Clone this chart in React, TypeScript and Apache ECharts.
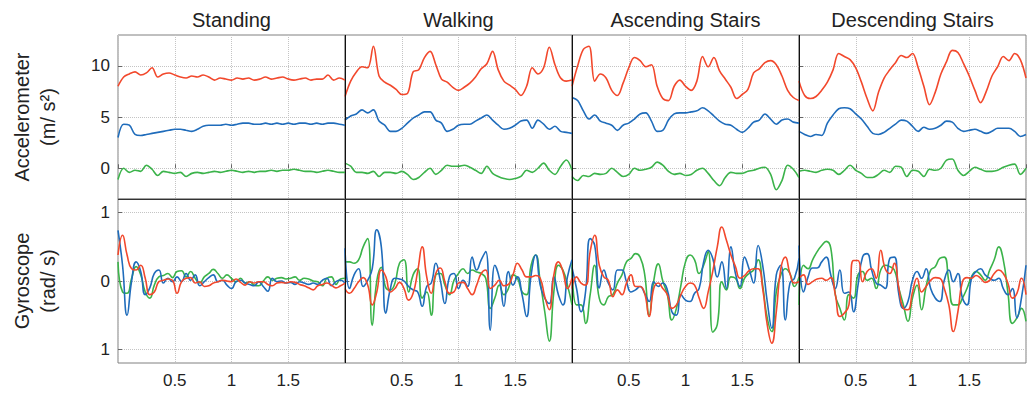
import { useEffect, useRef } from 'react';
import * as echarts from 'echarts';

// ---------- labels / ticks ----------
const activities = ['Standing', 'Walking', 'Ascending Stairs', 'Descending Stairs'];
const accName = 'Accelerometer\n(m/ s²)';
const gyroName = 'Gyroscope\n(rad/ s)';
const accTicks = [0, 5, 10];
const gyroTicks = [-1, 0, 1];
const accStep = 0.05; // s between accelerometer samples
const gyroStep = 0.04; // s between gyroscope samples

// ---------- accelerometer (m/s^2), t = 0..2 s ----------
const accStandingRed = [8.0, 8.9, 9.2, 9.4, 9.1, 9.3, 9.8, 8.9, 9.2, 9.3, 9.1, 8.9, 8.8, 9.0, 8.9, 9.1, 8.9, 8.6, 8.8, 8.7, 8.6, 8.8, 8.7, 8.8, 8.6, 8.7, 8.9, 8.7, 8.8, 8.9, 8.7, 8.6, 8.7, 8.8, 8.6, 8.7, 8.7, 9.1, 8.6, 8.8, 8.6];
const accStandingBlue = [3.0, 4.3, 4.2, 3.3, 3.2, 3.3, 3.4, 3.5, 3.6, 3.7, 3.8, 3.8, 3.7, 3.6, 3.8, 4.1, 4.2, 4.2, 4.2, 4.3, 4.2, 4.3, 4.4, 4.4, 4.3, 4.3, 4.4, 4.3, 4.4, 4.3, 4.4, 4.3, 4.4, 4.4, 4.3, 4.4, 4.3, 4.4, 4.4, 4.3, 4.2];
const accStandingGreen = [-1.1, 0.0, -0.4, -0.2, -0.3, 0.3, -0.1, -0.7, -0.3, -0.4, -0.5, -0.4, -0.8, -0.5, -0.4, -0.5, -0.4, -0.3, -0.4, -0.3, -0.2, -0.3, -0.4, -0.3, -0.4, -0.3, -0.3, -0.2, -0.3, -0.2, -0.2, -0.1, -0.2, -0.3, -0.3, -0.4, -0.3, -0.2, -0.3, -0.4, -0.4];

const accWalkingRed = [7.0, 8.5, 9.4, 9.9, 9.8, 11.9, 9.0, 8.4, 8.1, 7.7, 7.2, 7.3, 9.4, 9.6, 10.8, 11.4, 10.1, 8.7, 8.4, 7.9, 7.6, 7.9, 8.3, 8.9, 9.7, 10.2, 11.4, 9.6, 8.5, 8.1, 7.7, 7.1, 8.0, 9.8, 9.2, 9.8, 11.8, 10.1, 8.8, 8.5, 8.6];
const accWalkingBlue = [4.7, 5.1, 5.3, 5.7, 5.4, 5.7, 4.6, 4.2, 3.6, 3.6, 3.9, 4.4, 4.9, 5.2, 5.5, 5.5, 4.7, 4.4, 3.6, 3.8, 4.2, 4.3, 4.3, 4.6, 4.9, 5.2, 4.7, 4.2, 3.8, 3.9, 4.2, 4.6, 4.7, 3.9, 4.7, 4.3, 3.8, 4.1, 3.6, 3.5, 3.4];
const accWalkingGreen = [0.5, 0.2, -0.4, -0.4, -0.5, -0.3, -0.8, -0.4, -0.4, -0.5, -0.3, -0.6, -1.1, -0.9, -0.4, 0.0, -0.6, -0.2, 0.3, 0.2, 0.2, 0.3, 0.1, -0.2, -0.5, 0.2, -0.5, -0.8, -1.0, -1.1, -1.0, -0.8, -0.2, -0.4, 0.0, 0.5, -0.2, -0.6, 0.2, 0.8, -0.2];

const accAscRed = [8.0, 10.0, 11.6, 11.9, 8.5, 9.2, 8.8, 7.6, 7.1, 8.3, 9.8, 10.8, 10.5, 9.9, 10.1, 8.0, 6.8, 6.6, 8.0, 8.6, 8.0, 7.6, 8.5, 10.9, 9.9, 10.8, 9.5, 8.7, 7.9, 6.8, 7.2, 7.7, 9.3, 9.7, 10.3, 10.5, 10.1, 9.0, 7.6, 6.9, 6.6];
const accAscBlue = [6.9, 6.6, 5.6, 4.8, 5.2, 4.6, 4.4, 4.2, 3.7, 4.2, 4.4, 4.8, 5.3, 5.4, 4.6, 3.6, 3.7, 4.7, 5.3, 5.4, 5.4, 5.5, 5.6, 5.9, 5.6, 5.1, 4.6, 4.3, 4.2, 3.8, 3.5, 3.9, 4.5, 4.7, 5.3, 4.8, 4.3, 4.7, 4.8, 4.5, 4.4];
const accAscGreen = [-0.8, -1.2, -0.7, -0.8, -0.5, -0.6, -0.5, 0.0, -0.4, -0.8, -0.6, 0.0, -0.2, -0.1, 0.1, 0.6, 0.3, -0.3, -0.6, -0.5, -0.7, -0.6, -0.2, 0.0, -0.5, -1.2, -1.7, -0.9, -0.4, -0.5, -0.5, -0.3, -0.2, 0.0, 0.1, -0.6, -2.1, -1.2, 0.3, -0.1, -0.9];

const accDescRed = [8.5, 7.1, 6.8, 7.0, 7.6, 8.4, 9.6, 11.2, 10.9, 10.6, 9.8, 8.4, 6.8, 5.6, 7.4, 8.8, 9.6, 10.3, 11.0, 10.8, 11.2, 9.8, 8.0, 6.2, 7.4, 9.2, 10.4, 11.5, 11.3, 10.2, 9.0, 7.6, 6.4, 7.5, 9.0, 9.9, 10.9, 10.5, 11.2, 10.6, 8.8];
const accDescBlue = [3.6, 3.3, 3.1, 3.3, 3.2, 4.4, 5.2, 5.8, 5.9, 5.8, 5.3, 4.8, 4.1, 3.4, 3.3, 3.5, 3.9, 4.3, 4.7, 4.6, 4.1, 3.6, 4.0, 3.8, 3.9, 4.2, 4.6, 4.5, 3.9, 3.6, 3.7, 3.8, 3.6, 3.4, 3.6, 3.9, 3.9, 3.9, 3.6, 3.1, 3.3];
const accDescGreen = [-0.3, -0.2, -0.3, -0.4, -0.2, -0.1, -0.2, -0.6, -0.2, 0.3, -0.2, -0.5, -0.9, -0.9, -0.6, -0.2, -0.4, 0.2, 0.1, -0.8, -0.2, -0.3, -0.8, -0.1, -0.2, 0.0, 0.8, 0.9, -0.2, -0.7, -0.3, 0.1, -0.1, -0.3, -0.3, -0.2, 0.1, 0.3, 0.4, -0.6, 0.0];

// ---------- gyroscope (rad/s), t = 0..2 s ----------
const gyroStandingRed = [0.38, 0.67, 0.38, 0.18, 0.16, 0.23, 0.04, -0.2, -0.16, -0.01, 0.01, 0.03, 0.01, -0.18, -0.01, 0.04, 0.05, -0.03, -0.01, -0.08, -0.07, -0.03, -0.01, 0.01, 0, -0.01, 0.03, -0.02, -0.06, -0.01, -0.03, -0.01, -0.01, -0.05, -0.07, -0.03, -0.02, -0.03, -0.01, -0.02, -0.05, -0.07, -0.1, -0.13, -0.07, -0.05, -0.03, -0.06, -0.1, -0.07, -0.03];
const gyroStandingBlue = [0.74, 0.23, -0.5, 0, 0.28, 0.14, -0.2, -0.1, 0.11, 0.16, -0.03, 0.04, -0.01, 0.06, -0.01, 0.11, 0.01, 0.09, -0.07, -0.01, 0.05, 0.09, -0.01, 0.01, -0.06, -0.11, -0.01, 0.01, -0.03, -0.05, -0.07, -0.01, -0.08, -0.15, 0.04, -0.01, 0, -0.03, -0.02, -0.05, -0.01, -0.03, -0.05, -0.03, -0.05, 0.01, 0.04, -0.07, -0.01, 0.01, -0.03];
const gyroStandingGreen = [0.28, -0.16, -0.18, 0.04, 0.21, 0.09, -0.16, -0.25, -0.06, 0.06, 0.08, 0.11, 0.05, 0.14, 0.15, 0.06, 0.14, 0.04, -0.03, 0.06, 0.11, 0.17, 0.11, 0.04, 0.09, 0.04, -0.01, 0.04, -0.03, -0.01, -0.06, -0.07, 0, 0.06, 0.01, 0.04, 0.05, 0.03, 0.04, 0.06, 0.01, 0.04, 0.03, 0, -0.01, -0.07, 0.04, 0.06, -0.05, 0.03, 0.04];

const gyroWalkingRed = [-0.11, -0.18, -0.11, -0.01, 0.05, -0.06, -0.35, -0.16, 0.16, 0.06, -0.16, -0.11, -0.02, -0.11, -0.28, -0.18, 0.14, 0.5, 0.06, -0.18, 0.11, 0.19, -0.01, -0.18, -0.16, -0.03, -0.02, -0.11, -0.2, -0.06, 0.11, 0.16, -0.11, -0.06, 0.01, -0.07, -0.05, 0.09, 0.26, 0.16, 0.06, 0.06, 0.08, 0.04, -0.23, -0.42, 0.09, 0.28, 0.14, -0.11, 0.04];
const gyroWalkingBlue = [0.48, -0.11, 0.09, 0.18, -0.08, 0.01, 0.18, 0.75, 0.5, -0.47, -0.11, 0.04, 0.03, 0, -0.08, -0.13, -0.16, -0.37, -0.08, -0.03, 0.26, 0.01, -0.33, 0.06, 0.11, -0.11, 0.01, -0.08, 0.35, 0.16, 0.31, 0.43, -0.72, 0.23, 0.04, -0.37, 0.14, -0.06, 0.06, -0.2, -0.52, 0.09, 0.38, -0.06, -0.25, -0.33, 0.06, -0.2, -0.35, 0.06, 0.31];
const gyroWalkingGreen = [0.28, 0.28, 0.26, 0.31, 0.5, 0.62, -0.65, 0.0, 0.2, -0.1, -0.13, -0.03, 0.26, 0.31, -0.16, 0.09, 0.18, -0.25, -0.16, -0.5, 0.09, 0.11, -0.06, -0.2, 0.01, 0.11, 0.18, 0.11, 0.16, 0.13, 0.11, 0.04, -0.4, -0.25, -0.06, -0.2, -0.11, 0.09, 0.04, -0.16, -0.2, 0.23, 0.38, -0.01, -0.45, -0.88, -0.16, 0.23, 0.16, -0.06, -0.35];

const gyroAscRed = [-0.11, 0.06, -0.03, -0.06, 0.43, 0.67, 0.23, 0.06, 0.01, -0.23, -0.13, -0.2, -0.03, 0.09, -0.08, -0.08, -0.18, -0.52, -0.11, -0.03, -0.11, -0.2, -0.4, -0.35, -0.2, -0.08, -0.03, -0.06, -0.25, -0.4, -0.16, 0.14, 0.5, 0.79, 0.6, 0.38, 0.21, 0.04, 0.08, 0.15, 0.18, 0.18, -0.11, -0.64, -0.91, -0.45, 0.18, 0.35, 0.11, -0.03, -0.01];
const gyroAscBlue = [0.2, -0.11, -0.45, -0.15, 0.62, 0.52, -0.1, 0.16, -0.03, -0.13, 0.16, 0.16, -0.01, -0.16, -0.13, -0.08, -0.18, -0.3, -0.01, -0.08, -0.03, -0.13, -0.45, -0.5, -0.2, -0.28, -0.3, -0.18, -0.11, 0.28, 0.45, 0.33, 0.06, 0.28, -0.11, 0.5, 0.11, -0.08, 0.35, 0.18, -0.03, 0.52, 0.23, -0.3, -0.69, 0.09, 0.23, -0.57, -0.03, 0.04, 0.33];
const gyroAscGreen = [0.28, -0.35, -0.35, -0.62, -0.2, 0.23, -0.25, -0.35, -0.23, -0.2, -0.03, 0.09, 0.28, 0.33, 0.4, 0.35, 0.1, -0.5, 0.0, 0.25, 0.0, -0.2, -0.57, -0.4, -0.06, 0.28, 0.38, 0.31, 0.11, 0.23, 0.43, -0.75, -0.64, -0.01, -0.13, 0.06, 0.04, -0.11, 0.04, 0.11, 0.16, 0.31, -0.06, -0.54, -0.74, -0.16, 0.09, 0.18, 0.11, -0.08, 0.06];

const gyroDescRed = [0.04, 0.09, -0.05, -0.01, 0.03, 0.04, 0.01, 0.05, -0.2, -0.52, -0.47, -0.35, 0.3, 0.3, -0.01, 0.14, 0.18, 0.04, 0.45, 0.18, 0.11, 0.26, -0.11, -0.4, -0.42, -0.16, 0.04, -0.16, -0.08, 0.01, 0.05, 0.04, -0.11, -0.35, -0.74, -0.45, -0.01, 0.05, 0.04, 0.08, 0.04, -0.02, 0.01, 0.11, 0.16, 0.11, -0.03, -0.25, -0.18, 0.04, -0.2];
const gyroDescBlue = [0.52, -0.16, 0.06, 0.19, 0.19, 0.28, 0.35, 0.09, -0.11, 0.16, -0.18, -0.16, -0.45, -0.06, 0.35, 0.4, 0.16, -0.03, -0.06, -0.11, 0.33, 0.35, -0.2, -0.4, -0.3, 0.01, 0.14, 0.04, 0.18, -0.11, -0.25, -0.3, 0.01, 0.16, -0.01, 0.11, -0.25, -0.35, 0.04, 0.14, 0.18, 0.09, 0.04, 0.01, 0.04, -0.11, -0.2, -0.11, -0.54, -0.25, 0.23];
const gyroDescGreen = [-0.35, 0.23, 0.18, 0.31, 0.43, 0.52, 0.58, 0.48, -0.2, -0.4, -0.57, -0.2, -0.25, 0.09, 0.14, 0.01, 0.04, -0.11, 0.16, 0.23, 0.21, 0.16, -0.11, -0.35, -0.59, -0.25, -0.06, -0.42, -0.08, 0.16, 0.21, 0.33, 0.35, -0.01, -0.35, -0.35, -0.25, -0.11, 0.06, 0.14, 0.09, 0.01, 0.16, 0.31, 0.5, 0.31, -0.16, -0.62, -0.54, -0.4, -0.59];

const accPanels = [
  [accStandingGreen, accStandingBlue, accStandingRed],
  [accWalkingGreen, accWalkingBlue, accWalkingRed],
  [accAscGreen, accAscBlue, accAscRed],
  [accDescGreen, accDescBlue, accDescRed],
];
const gyroPanels = [
  [gyroStandingGreen, gyroStandingBlue, gyroStandingRed],
  [gyroWalkingGreen, gyroWalkingBlue, gyroWalkingRed],
  [gyroAscGreen, gyroAscBlue, gyroAscRed],
  [gyroDescGreen, gyroDescBlue, gyroDescRed],
];

const FONT = '"Liberation Sans", Arial, Helvetica, sans-serif';
const LINE_COLORS = ['#3bb34a', '#1f6cbb', '#f2482c']; // green, blue, red
const TEXT = '#222';

export default function App() {
  const ref = useRef<HTMLDivElement>(null);

  useEffect(() => {
    const chart = echarts.init(ref.current as HTMLDivElement, null, { renderer: 'svg' });
    const colLeft = [118, 345, 572, 799];
    const colW = 227;
    const rowTop = [35, 199];
    const rowH = 164;

    const grids: any[] = [];
    const xAxes: any[] = [];
    const yAxes: any[] = [];
    const series: any[] = [];
    const split = { show: true, lineStyle: { type: 'dotted', color: '#c4c4c4', width: 1 } };

    for (let r = 0; r < 2; r++) {
      for (let c = 0; c < 4; c++) {
        const idx = r * 4 + c;
        grids.push({
          left: colLeft[c], top: rowTop[r], width: colW, height: rowH,
          show: true, borderColor: '#808080', borderWidth: 1, backgroundColor: 'transparent',
        });
        xAxes.push({
          type: 'value', gridIndex: idx, min: 0, max: 2, interval: 0.5,
          axisLine: { show: false },
          axisTick: { show: true, inside: true, length: 4, lineStyle: { color: '#666' } },
          axisLabel: {
            show: r === 1, showMinLabel: false, showMaxLabel: false,
            formatter: (v: number) => String(v),
            fontSize: 17, color: TEXT, fontFamily: FONT, margin: 9,
          },
          splitLine: split,
        });
        const isAcc = r === 0;
        const ticks = isAcc ? accTicks : gyroTicks;
        yAxes.push({
          type: 'value', gridIndex: idx,
          min: isAcc ? -3 : -1.2, max: isAcc ? 13 : 1.2,
          axisLine: { show: false },
          axisTick: { show: true, inside: true, length: 4, customValues: ticks, lineStyle: { color: '#666' } },
          axisLabel: {
            show: c === 0, customValues: ticks,
            formatter: (v: number) => String(Math.abs(v)),
            fontSize: 17, color: TEXT, fontFamily: FONT, margin: 8,
          },
          splitLine: split,
          name: c === 0 ? (isAcc ? accName : gyroName) : '',
          nameLocation: 'middle', nameRotate: 90, nameGap: 57,
          nameTextStyle: { fontSize: 20, lineHeight: 26, color: TEXT, fontFamily: FONT },
        });
        const lines = isAcc ? accPanels[c] : gyroPanels[c];
        const step = isAcc ? accStep : gyroStep;
        lines.forEach((arr, li) => {
          series.push({
            type: 'line', xAxisIndex: idx, yAxisIndex: idx,
            data: arr.map((v, k) => [Math.round(k * step * 1000) / 1000, v]),
            showSymbol: false, symbol: 'none', smooth: isAcc ? 0.35 : 0.5, silent: true,
            lineStyle: { width: 1.6, color: LINE_COLORS[li] },
            itemStyle: { color: LINE_COLORS[li] },
            z: 2 + li,
          });
        });
      }
    }

    const graphics: any[] = activities.map((name, c) => ({
      type: 'text', x: colLeft[c] + colW / 2, y: 20, z: 10,
      style: { text: name, fontSize: 20, fontFamily: FONT, fill: TEXT, align: 'center', verticalAlign: 'middle' },
    }));
    [345, 572, 799].forEach((x) => {
      graphics.push({ type: 'line', z: 10, shape: { x1: x + 0.5, y1: 35, x2: x + 0.5, y2: 363 }, style: { stroke: '#111', lineWidth: 1 } });
    });
    graphics.push({ type: 'line', z: 10, shape: { x1: 118, y1: 199.5, x2: 1026, y2: 199.5 }, style: { stroke: '#333', lineWidth: 1.2 } });

    chart.setOption({
      animation: false,
      backgroundColor: '#fff',
      grid: grids,
      xAxis: xAxes,
      yAxis: yAxes,
      series,
      graphic: graphics,
    });
    return () => chart.dispose();
  }, []);

  return <div ref={ref} style={{ position: 'fixed', left: 0, top: 0, width: 1029, height: 394 }} />;
}
